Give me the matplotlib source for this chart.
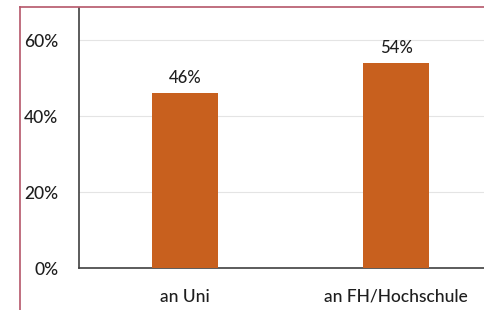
import matplotlib.pyplot as plt
from matplotlib.lines import Line2D

# data
categories = ['an Uni', 'an FH/Hochschule']
values = [46, 54]
yticks = [0, 20, 40, 60]

plt.rcParams['font.family'] = ['Lato', 'DejaVu Sans']

fig = plt.figure(figsize=(4.85, 3.1), dpi=100)
ax = fig.add_axes([0.163, 0.135, 0.872, 0.839])

x = range(len(categories))
bars = ax.bar(x, values, width=0.31, color='#C8601E', zorder=3)

for bar, v in zip(bars, values):
    ax.annotate(f'{v}%', (bar.get_x() + bar.get_width() / 2, v),
                xytext=(0, 5), textcoords='offset points',
                ha='center', va='bottom', fontsize=12, color='#1e1e1e',
                fontweight='medium')

ax.set_xlim(-0.5, 1.5)
ax.set_ylim(0, 68.4)
ax.set_yticks(yticks)
ax.set_yticklabels([f'{t}%' for t in yticks], fontsize=12.5, color='#1e1e1e',
                   fontweight='medium')
ax.set_xticks(list(x))
ax.set_xticklabels(categories, fontsize=12.5, color='#1e1e1e', fontweight='medium')
ax.tick_params(axis='y', length=0, pad=15)
ax.tick_params(axis='x', length=0, pad=15)

ax.grid(axis='y', color='#E4E4E4', linewidth=0.8, zorder=0)
for s in ['top', 'right']:
    ax.spines[s].set_visible(False)
ax.spines['left'].set_color('#404040')
ax.spines['bottom'].set_color('#404040')
ax.spines['left'].set_linewidth(1.2)
ax.spines['bottom'].set_linewidth(1.2)

# reddish frame on left and top
fig.add_artist(Line2D([20 / 485, 20 / 485], [0, 1 - 7 / 310], color='#B5566A', linewidth=1.2))
fig.add_artist(Line2D([20 / 485, 1], [1 - 7 / 310, 1 - 7 / 310], color='#B5566A', linewidth=1.2))

fig.savefig('out.png', dpi=100)
